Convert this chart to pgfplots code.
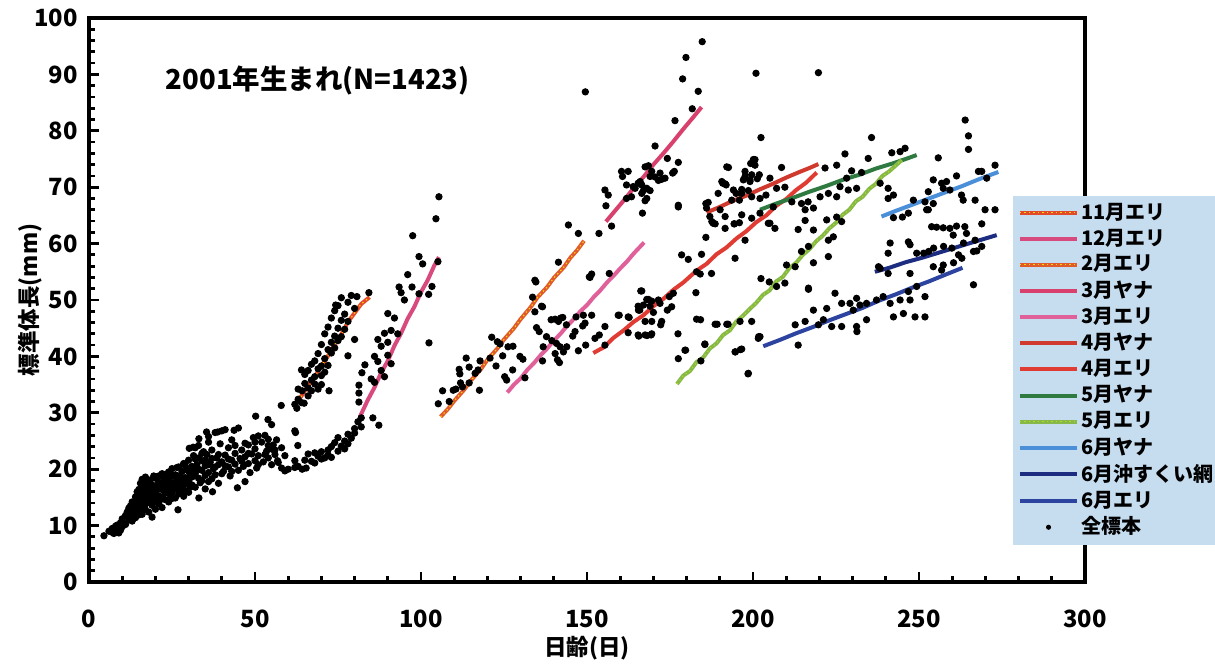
\documentclass[border=0pt]{standalone}
\usepackage{fontspec}
\setmainfont{Noto Sans CJK JP}
\usepackage{pgfplots}
\pgfplotsset{compat=1.18}

\definecolor{cNovE}{HTML}{E24A2A}
\definecolor{cDecE}{HTML}{D84A7E}
\definecolor{cFebE}{HTML}{E05A2C}
\definecolor{cMarY}{HTML}{D8406E}
\definecolor{cMarE}{HTML}{E0609A}
\definecolor{cAprY}{HTML}{D03A2E}
\definecolor{cAprE}{HTML}{E03C34}
\definecolor{cMayY}{HTML}{2E7A40}
\definecolor{cMayE}{HTML}{86B84A}
\definecolor{cJunY}{HTML}{4A8FD8}
\definecolor{cJunO}{HTML}{1C2C80}
\definecolor{cJunE}{HTML}{2C44A0}
\definecolor{legbg}{HTML}{C6DCEF}

\begin{document}
\begin{tikzpicture}
\path[use as bounding box] (-35.6pt,-33.6pt) rectangle (450.4pt,232.8pt);
\begin{axis}[
  scale only axis,
  width=398.4pt, height=225.6pt,
  xmin=0, xmax=300, ymin=0, ymax=100,
  xtick={0,50,...,300}, ytick={0,10,...,100},
  minor x tick num=4, minor y tick num=4,
  tick pos=left, tick align=inside,
  major tick length=4pt, minor tick length=2.4pt,
  every tick/.style={black, line width=1.1pt},
  axis line style={line width=1.4pt},
  /pgf/number format/assume math mode=true,
  tick label style={font=\bfseries\fontsize{9.5}{10}\selectfont},
  xticklabel style={yshift=-7.5pt},
  yticklabel style={xshift=-1pt},
  xlabel={日齢(日)}, ylabel={標準体長(mm)},
  label style={font=\bfseries\fontsize{9}{10}\selectfont},
  xlabel style={at={(axis description cs:0.5,-0.117)}, anchor=center},
  ylabel style={at={(axis description cs:-0.059,0.5)}, anchor=center},
  legend image code/.code={\draw[mark repeat=2,mark phase=2,#1] plot coordinates {(0pt,0pt) (11.5pt,0pt) (23pt,0pt)};},
  legend style={at={(0.927,0.686)}, anchor=north west, fill=legbg, draw=none,
    font=\bfseries\fontsize{8}{9.5}\selectfont, inner sep=2pt, row sep=0.6pt,
    nodes={inner sep=0.9pt}},
  legend cell align=left,
]
% all specimens
\addplot[only marks, mark=*, mark size=1.25pt, black, forget plot] coordinates {
(4.5,8.2) (6,9.0) (7,9.5) (7,8.8) (7.5,8.6) (8,9.2) (8,9.9) (8.5,10.1) (9,9.4) (9,8.7) (9.5,10.5) (9.5,9.2)
(10,9.8) (10,11.2) (10.5,10.4) (11,11.8) (11,10.2) (11.5,12.4) (12,11.0) (12,13.1) (12.5,11.8) (12.5,13.5)
(13,12.6) (13,14.2) (13,10.8) (13.5,11.4) (13.5,13.5) (14,12.2) (14,15.1) (14,13.8) (14,11.4) (14.5,14.6)
(14.5,12.9) (14.5,16.0) (15,13.4) (15,15.8) (15,16.4) (15,11.9) (15.5,14.2) (15.5,12.6) (15.5,17.5)
(16,15.0) (16,13.2) (16,16.9) (16,12.0) (16,18.2) (16.5,14.5) (16.5,17.2) (16.5,15.7) (17,15.6) (17,13.8)
(17,16.4) (17,12.8) (17,18.6) (17.5,14.8) (17.5,17.6) (17.5,16.1) (18,15.2) (18,12.4) (18,16.8) (18,14.3)
(18,17.4) (18.5,14.0) (18.5,18.1) (18.5,15.5) (19,15.9) (19,13.6) (19,17.2) (19,11.5) (19,14.8) (19.5,16.4)
(19.5,18.8) (20,14.7) (20,18.4) (20,16.0) (20,12.9) (20,15.5) (20.5,17.1) (20.5,14.2) (21,15.3) (21,13.9)
(21,18.8) (21,16.8) (21,17.7) (21.5,16.6) (21.5,14.6) (22,17.5) (22,15.0) (22,19.2) (22,13.2) (22,16.4)
(22.5,16.2) (22.5,18.5) (23,18.0) (23,14.6) (23,15.8) (23,17.2) (23.5,17.0) (23.5,19.2) (24,16.0) (24,19.5)
(24,18.3) (24,14.2) (24,17.4) (24.5,15.4) (24.5,16.8) (25,17.6) (25,20.1) (25,14.8) (25,15.9) (25,18.9)
(25.5,18.8) (25.5,16.6) (26,16.5) (26,19.0) (26,14.9) (26,17.7) (26.5,17.8) (26.5,20.3) (26.8,12.8)
(27,15.6) (27,20.4) (27,18.2) (27,16.8) (27.5,16.9) (27.5,18.9) (28,19.6) (28,17.4) (28,15.9) (28,18.2)
(28.5,21.0) (28.5,15.2) (28.5,17.2) (29,18.5) (29,16.2) (29,20.6) (29.5,19.9) (29.5,17.4) (30,17.8)
(30,21.6) (30,15.9) (30,19.6) (30.2,23.7) (30.5,18.9) (30.5,16.8) (31,20.5) (31,17.2) (31,18.6) (31.4,23.9)
(31.5,22.4) (31.5,19.8) (32,19.2) (32,16.8) (32,23.8) (32,21.8) (32.5,20.8) (33,18.4) (33,22.0) (33,24.2)
(33,20.0) (33.1,25.4) (33.1,14.9) (33.5,17.6) (34,19.8) (34,21.5) (34,18.0) (34,22.8) (34.5,23.1)
(35,18.9) (35,20.6) (35,16.5) (35,21.6) (35.4,26.6) (35.5,22.6) (36,19.4) (36,25.8) (36,17.8) (36,20.8)
(36,24.8) (36.5,21.2) (37,18.3) (37,23.4) (37,21.9) (37.2,16.0) (37.5,20.1) (38,26.5) (38,19.0) (38,20.4)
(38.5,22.0) (38.8,26.6) (39,20.8) (39,17.5) (39,22.6) (39.5,24.5) (40,21.3) (40,26.8) (40,19.2) (40.5,19.6)
(41,22.5) (41,27.0) (41,20.6) (42,20.4) (42,23.8) (42,21.8) (42.5,18.8) (43,21.6) (43,25.2) (43,19.6)
(43.7,26.9) (44,20.9) (44,22.8) (44,24.2) (44.7,16.7) (45,27.3) (45,19.8) (45.5,21.9) (46,23.4) (46,21.4)
(46.5,20.5) (47,22.2) (47,17.8) (47,24.6) (48,21.0) (48,24.3) (48,22.8) (48.5,19.4) (49,22.7) (49.5,25.6)
(50,21.5) (50,23.6) (50,24.8) (50.2,29.4) (50.5,20.2) (51,25.9) (51,22.4) (51,20.8) (52,24.8) (52.5,21.3)
(53,26.0) (53,22.6) (53.5,23.2) (53.9,28.8) (54,22.0) (54,25.3) (54,24.2) (55,20.8) (55,27.9) (55.3,23.5)
(55.5,24.3) (56,22.6) (56,23.4) (56.5,25.2) (56.8,21.5) (57,21.2) (57.9,31.3) (58,23.8) (58,20.2)
(59,19.7) (59,22.4) (60,20.0)
(62,26.8) (62.2,26.5) (62.9,24.2) (62,21.5) (62,20.3) (63,20.5) (64.2,20.0) (65.4,20.2) (65,21.6)
(66,22.7) (67,21.4) (68,22.9) (68,21.1) (69,22.3) (70,23.1) (70,21.8) (71,22.0) (72,23.4) (72,22.5)
(73,24.0) (73,22.1) (74,24.7) (75,23.2) (75,25.6) (76,24.1) (77,25.0) (77,23.6) (78,26.2) (78,24.5)
(79,25.5) (80,26.4) (80,27.2) (81,28.4) (82,29.1) (82,27.5) (85.5,29.1) (87.3,27.8)
(62,31.5) (62.6,30.8) (63,32.4) (63,34.2) (64,31.8) (64,37.6) (64.2,33.9) (64.8,31.7) (65,35.2) (65,36.8)
(66,34.4) (66,37.5) (66,33.0) (67,35.8) (67,38.6) (67,33.9) (68,36.4) (68,39.2) (68,35.1) (69,37.8)
(69,40.5) (69,34.2) (70,38.3) (70,42.1) (70,36.6) (70,35.0) (71,39.6) (71,44.0) (71,37.2) (72,41.2)
(72,45.2) (72,38.4) (72.3,33.9) (73,42.5) (73,46.8) (73,40.6) (74,43.6) (74,48.1) (74,41.5) (74.3,49.1)
(75,45.0) (75,49.0) (75,42.8) (76,46.4) (76,50.4) (76,43.5) (77,47.5) (77,44.8) (78,49.6) (78,46.2)
(78,40.1) (79,50.8) (80,48.5) (80,43.0) (80.7,50.6) (84.3,51.3)
(81.3,34.9) (81.3,33.5) (81.3,31.9) (82.2,37.1) (83.1,38.5) (85,36.0) (86,35.4) (86,40.0) (87,39.1)
(87,43.0) (88,37.5) (88,41.8) (89,44.1) (89,36.4) (90,42.5) (90,47.6) (90,40.2) (91,44.6) (91,38.7)
(92,46.8) (93,44.0) (93.4,52.3) (94,51.3) (95,50.0) (96,54.5) (97.3,52.3) (97.5,61.4) (99.4,57.7)
(99.4,51.1) (100.5,56.4) (102.3,51.0) (102.4,42.4) (103.3,52.4) (104.5,64.4) (105.1,56.8) (105.4,68.3)
(105.2,31.6) (106.5,33.9) (108.5,32.0) (109.7,34.0) (110.5,34.2) (111.5,37.7) (111.7,36.9) (111.9,35.3)
(112.5,34.6) (113.6,39.7) (114.5,38.1) (114.5,35.3) (116.3,37.0) (117.2,37.6) (117.6,34.0) (117.8,39.2)
(120.8,39.7) (121.3,43.4) (122.6,38.3) (123,42.6) (123.8,42.2) (124.6,40.1) (125.2,36.4) (125.8,35.8)
(126.2,41.7) (127.6,37.6) (127.7,41.8) (129.8,40.0) (130.7,39.5) (131.3,36.2) (133.6,50.5) (134.3,53.5)
(134.3,47.9) (134.6,53.2) (134.8,45.1) (135.6,44.4) (136.3,48.9) (136.6,48.8) (136.6,39.2) (136.8,41.7)
(137.8,43.5) (139.2,46.5) (139.4,42.8) (140.4,46.6) (140.4,40.5) (140.8,42.3) (141.1,39.4) (141.4,46.2)
(141.4,56.7) (141.7,38.9) (141.9,41.7) (142.1,46.8) (142.7,46.9) (142.9,40.8) (143.8,45.6) (143.9,41.7)
(144.4,63.3) (145.7,43.6) (146.4,44.4) (146.7,47.0) (147.4,61.8) (147.4,41.0) (148.7,45.4) (148.9,47.3)
(149.4,45.9) (149.5,86.9) (149.6,42.0) (150.7,54.1) (150.9,54.0) (151.4,54.6) (151.4,47.3) (152.4,43.2)
(153.6,61.8) (153.7,43.8) (155.4,45.3) (155.4,42.0) (156.7,54.7) (159.4,47.3) (159.7,47.3) (162.4,47.0)
(162.4,44.2) (162.7,46.9) (165.4,43.8) (165.4,48.9) (165.5,48.2) (165.6,43.6) (165.9,48.2) (166.2,51.6)
(166.5,51.6) (167.0,49.1) (167.5,43.8) (167.5,46.2) (168.0,50.1) (168.1,43.7) (168.5,50.1) (169.0,48.9)
(169.3,43.8) (169.5,44.0) (169.5,49.8) (169.5,46.2) (170.0,47.8) (171.5,50.0) (172.0,49.4) (172.2,45.6)
(172.5,46.2) (174.2,48.2) (174.8,50.6) (175.5,48.8) (176.0,51.2) (177.4,44.0) (177.5,39.6)
(155.4,69.5) (155.7,66.7) (156.4,68.6) (157.4,63.1) (160.4,72.8) (160.7,71.9) (161.9,70.4) (161.9,68.0)
(162.4,72.8) (163.4,68.3) (163.9,70.1) (164.5,69.8) (165.4,70.7) (166.0,71.0) (166.5,70.4) (166.5,68.9)
(166.7,65.4) (167.0,69.4) (167.5,73.6) (167.5,67.6) (168.0,69.8) (168.0,68.0) (168.5,73.8) (169.0,71.9)
(169.0,69.4) (169.5,72.8) (170.5,71.8) (170.5,77.3) (171.5,71.2) (172.0,72.5) (172.5,71.4) (173.5,71.6)
(174.2,75.1) (175.8,72.5) (176.3,72.8) (176.5,81.8) (177.5,74.4) (177.5,66.5) (178.8,89.2) (179.8,93.0)
(181.7,83.9) (183.5,87.0) (184.7,95.8)
(177.5,66.8) (178.5,58.0) (179.5,41.1) (179.7,41.1) (180.5,57.2) (182.8,51.3) (183.0,55.0) (183.0,46.6)
(184.1,54.6) (184.2,46.5) (184.3,39.2) (184.5,58.1) (185.5,42.1) (185.5,42.2) (185.8,61.1) (185.8,67.1)
(186.0,66.3) (186.5,67.3) (187.0,64.8) (187.5,54.7) (187.6,63.9) (188.0,63.6) (188.6,63.5) (188.6,45.7)
(189.2,45.7) (189.5,68.9) (190.1,66.0) (190.6,71.0) (190.9,70.7) (191.6,70.6) (191.6,64.8) (191.6,62.7)
(191.9,70.4) (192.1,73.6) (192.1,45.7) (192.5,45.7) (192.6,73.5) (193.6,67.7) (194.1,69.5) (194.3,63.5)
(194.4,63.5) (194.6,57.4) (194.6,40.8) (194.7,40.8) (194.9,68.9) (195.9,63.7) (195.9,67.7) (196.1,46.2)
(196.2,41.2) (196.6,68.9) (196.6,69.6) (196.6,65.1) (196.6,41.3) (197.1,71.3) (197.6,71.9) (197.6,72.8)
(197.6,60.6) (198.5,36.9) (198.6,69.4) (198.6,37.0) (199.1,71.0) (199.1,71.3) (199.3,74.2) (199.6,72.2)
(199.6,68.3) (199.6,64.5) (199.6,46.2) (200.1,74.9) (200.6,74.9) (200.6,73.9) (200.9,90.2) (201.3,71.5)
(201.6,43.2) (201.7,43.5) (201.9,72.2) (202.1,68.0) (202.1,65.4) (202.1,43.5) (202.4,78.8) (202.4,53.8)
(203.9,68.6) (204.6,63.6) (204.9,53.2) (205.1,71.6) (205.1,63.6) (206.1,66.5) (206.6,62.7) (207.1,69.8)
(207.1,52.4) (208.6,73.5) (209.6,70.0) (209.6,53.0) (210.1,56.2) (211.7,67.4) (212.7,55.9) (212.7,45.6)
(213.6,62.5) (213.6,42.0) (214.6,67.1) (214.6,58.6) (215.7,66.0) (215.7,64.1) (215.7,46.2) (216.6,67.4)
(216.7,59.5) (216.7,52.1) (216.7,51.9) (218.2,66.3) (218.2,62.4) (218.2,56.6) (218.2,48.2) (219.7,90.3)
(219.7,45.6) (220.2,68.3) (221.2,46.5) (221.7,73.4) (222.2,64.2) (222.2,48.5) (222.7,68.9) (222.7,60.6)
(222.7,57.7) (223.7,45.3) (224.2,61.2) (224.7,51.2) (225.2,73.9) (225.2,68.3) (225.2,64.7) (226.2,70.1)
(226.7,63.9) (226.7,49.4) (226.7,45.3) (227.7,75.9) (228.2,71.6) (228.7,69.5) (229.2,49.4) (229.7,72.9)
(230.2,48.2) (231.2,69.8) (231.2,50.3) (231.2,45.3) (231.3,44.4) (232.2,49.1) (232.7,72.6) (234.2,49.4)
(234.2,46.5) (234.7,75.1) (235.7,78.8) (237.2,50.0) (237.8,55.9) (238.3,70.7) (238.3,55.6) (239.2,50.6)
(240.7,69.8) (240.7,68.0) (240.7,58.3) (240.7,54.7) (241.3,60.1) (241.3,49.4) (241.8,76.1) (242.3,68.6)
(242.3,64.6) (242.3,47.0) (244.3,76.3) (244.3,50.0) (245.0,64.7) (245.3,47.6) (245.8,76.9) (246.8,65.4)
(246.8,60.3) (246.8,51.5) (247.3,59.8) (247.3,54.7) (247.3,50.0) (248.3,67.7) (248.8,47.0) (249.3,58.3)
(249.3,52.4) (251.4,58.3) (251.8,67.4) (251.8,50.6) (251.8,47.0) (252.3,66.0) (252.8,69.2) (252.8,66.0)
(252.9,58.6) (253.8,63.0) (254.3,71.3) (254.3,67.1) (254.3,55.9) (254.4,59.2) (255.3,62.9) (255.8,75.2)
(256.8,70.7) (256.8,55.3) (257.3,69.8) (257.3,62.8) (257.3,56.2) (257.4,59.5) (258.3,71.0) (259.3,69.5)
(259.3,62.7) (259.9,59.2) (260.3,61.5) (260.4,56.6) (261.3,72.0) (261.3,63.1) (261.9,58.0) (262.8,68.6)
(262.9,57.4) (263.3,67.7) (263.4,60.1) (263.8,63.0) (263.9,81.9) (264.3,61.8) (264.9,79.1) (264.9,76.7)
(266.4,58.6) (266.4,52.7) (266.9,67.7) (266.9,60.6) (267.4,58.7) (267.9,72.8) (268.9,72.8) (268.9,63.5)
(268.9,59.5) (269.9,66.0) (270.4,71.6) (272.9,73.9) (272.9,66.0)
};
% survey lines
\addplot[cNovE, line width=1.6pt, postaction={draw=yellow!80!orange, line width=0.45pt, dash pattern=on 0.5pt off 1.3pt}] coordinates {
(62.3,31.5) (64,33.0) (66,34.8) (68,36.4) (70,38.3) (72,40.1) (74,42.1) (76,43.9) (78,46.1) (80,47.7) (82,49.3) (84.5,50.5)};
\addlegendentry{11月エリ}
\addplot[cDecE, line width=1.6pt] coordinates {
(81.6,29.3) (84,32.3) (86,34.5) (88,37.1) (90,39.2) (92,41.9) (94,44.1) (96,46.7) (98,48.8) (100,51.4) (102,53.5) (104,56.1) (105.4,57.6)};
\addlegendentry{12月エリ}
\addplot[cFebE, line width=1.6pt, postaction={draw=yellow!80!orange, line width=0.45pt, dash pattern=on 0.5pt off 1.3pt}] coordinates {
(105.9,29.3) (108,30.6) (110,32.1) (113,34.1) (115,35.7) (118,37.7) (120,39.4) (123,41.4) (125,43.0) (128,45.0) (130,46.6) (133,48.7) (135,50.4) (138,52.3) (140,53.9) (143,55.8) (145,57.5) (147,58.8) (149.1,60.5)};
\addlegendentry{2月エリ}
\addplot[cMarY, line width=1.6pt] coordinates {
(155.7,63.9) (158,65.5) (161,67.6) (164,69.8) (167,71.8) (170,74.0) (173,76.0) (176,78.1) (179,80.3) (182,82.4) (184.5,84.2)};
\addlegendentry{3月ヤナ}
\addplot[cMarE, line width=1.6pt] coordinates {
(126.0,33.6) (128,35.0) (130,36.1) (132,37.6) (134,38.8) (136,40.2) (138,41.4) (140,42.8) (142,44.0) (144,45.4) (146,46.6) (148,48.0) (150,49.1) (152,50.5) (154,51.7) (156,53.1) (158,54.3) (160,55.6) (162,56.8) (164,58.2) (167.2,60.2)};
\addlegendentry{3月エリ}
\addplot[cAprY, line width=1.6pt] coordinates {
(186.0,65.5) (190,66.5) (194,67.6) (198,68.5) (202,69.6) (206,70.6) (210,71.7) (214,72.7) (217,73.4) (219.7,74.1)};
\addlegendentry{4月ヤナ}
\addplot[cAprE, line width=1.6pt] coordinates {
(151.9,40.6) (155,41.6) (158,43.3) (161,44.6) (164,46.1) (167,47.3) (170,48.9) (173,50.2) (176,51.8) (179,53.1) (183,55.2) (186,56.4) (189,58.1) (192,59.3) (195,60.9) (198,62.2) (201,63.8) (204,65.0) (207,66.7) (210,67.9) (213,69.5) (216,70.8) (219.2,72.6)};
\addlegendentry{4月エリ}
\addplot[cMayY, line width=1.6pt] coordinates {
(202.1,66.0) (207,67.1) (212,68.1) (217,69.2) (222,70.2) (227,71.3) (232,72.2) (237,73.3) (242,74.2) (246,75.0) (249.3,75.7)};
\addlegendentry{5月ヤナ}
\addplot[cMayE, line width=1.6pt, postaction={draw=yellow!70!green, line width=0.45pt, dash pattern=on 0.5pt off 1.3pt}] coordinates {
(177.1,35.1) (179,36.6) (181,37.4) (183,39.0) (185,39.8) (187,41.4) (189,42.3) (191,43.8) (193,44.6) (195,46.2) (197,47.2) (199,48.4) (201,49.5) (203,50.9) (205,51.7) (207,53.3) (209,54.1) (211,55.7) (213,56.6) (215,58.0) (217,59.0) (219,60.4) (221,61.4) (223,62.7) (225,63.7) (227,65.1) (229,66.0) (231,67.5) (233,68.3) (235,69.7) (237,70.6) (239,72.0) (241,72.8) (244.8,74.8)};
\addlegendentry{5月エリ}
\addplot[cJunY, line width=1.6pt] coordinates {
(238.7,64.8) (243,65.8) (248,66.9) (253,68.0) (258,69.1) (263,70.2) (268,71.4) (273.9,72.7)};
\addlegendentry{6月ヤナ}
\addplot[cJunO, line width=1.6pt] coordinates {
(236.7,55.0) (241,55.7) (246,56.7) (251,57.5) (256,58.4) (261,59.3) (266,60.2) (273.4,61.5)};
\addlegendentry{6月沖すくい網}
\addplot[cJunE, line width=1.6pt] coordinates {
(203.1,41.8) (208,42.9) (213,44.1) (218,45.2) (223,46.4) (228,47.5) (233,48.6) (238,49.9) (243,51.0) (248,52.2) (253,53.3) (258,54.5) (263.1,55.7)};
\addlegendentry{6月エリ}
\addlegendimage{only marks, mark=*, mark size=0.8pt, black}
\addlegendentry{全標本}
\node[anchor=west, font=\bfseries\fontsize{11}{12}\selectfont] at (axis cs:20.5,89) {2001年生まれ(N=1423)};
\end{axis}
\end{tikzpicture}
\end{document}
